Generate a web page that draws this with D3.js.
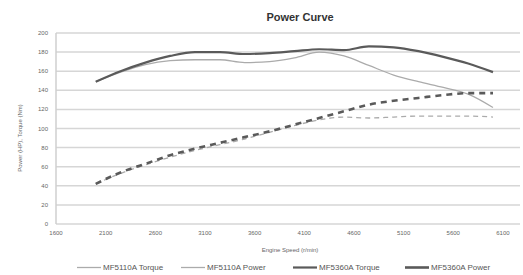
<!DOCTYPE html>
<html>
<head>
<meta charset="utf-8">
<script src="https://cdn.jsdelivr.net/npm/d3@7"></script>
<style>
    body { margin: 0; background: #fff; }
    svg { display: block; font-family: "Liberation Sans", Arial, sans-serif; }
    .grid line { stroke: #d6d6d6; stroke-width: 1.5; }
    .tick-label { fill: #666; font-size: 6px; }
    .axis-title { fill: #666; font-size: 6px; }
    .legend-label { fill: #555; font-size: 8px; }
</style>
</head>
<body>
<svg id="chart" width="523" height="275"></svg>
<script>
// Engine speed samples (r/min)
const RPM = [2000, 2250, 2500, 2750, 3000, 3250, 3500, 3750, 4000, 4250, 4500, 4750, 5000, 5250, 5500, 5750, 6000];

// Series values
const TORQUE_A = [149, 159, 167, 171, 172, 172, 169, 170, 174, 180, 176, 166, 156, 149, 143, 136, 122];
const POWER_A = [42, 53, 62, 70, 77, 83, 89, 96, 103, 109, 112, 111, 112, 113, 113, 113, 112];
const TORQUE_B = [149, 160, 169, 176, 180, 180, 178, 179, 181, 183, 182, 186, 185, 181, 175, 168, 159];
const POWER_B = [42, 54, 63, 72, 79, 85, 91, 97, 104, 111, 118, 125, 129, 132, 135, 137, 137];

const SERIES_NAMES = ["MF5110A Torque", "MF5110A Power", "MF5360A Torque", "MF5360A Power"];

// Tick labels
const X_TICKS = [1600, 2100, 2600, 3100, 3600, 4100, 4600, 5100, 5600, 6100];
const Y_TICKS = [0, 20, 40, 60, 80, 100, 120, 140, 160, 180, 200];

const svg = d3.select("#chart");

const plotLeft = 56, plotRight = 520, plotTop = 33, plotBottom = 224;

const xScale = d3.scaleLinear()
    .domain([1600, 6272])
    .range([plotLeft, plotRight]);

const yScale = d3.scaleLinear()
    .domain([0, 200])
    .range([plotBottom, plotTop]);

// Title
svg.append("text")
    .attr("x", 300)
    .attr("y", 21)
    .attr("text-anchor", "middle")
    .style("font-size", "11px")
    .style("font-weight", "bold")
    .style("fill", "#333")
    .text("Power Curve");

// Horizontal grid
svg.append("g")
    .classed("grid", true)
    .selectAll("line")
    .data(Y_TICKS)
    .enter().append("line")
    .attr("x1", plotLeft)
    .attr("x2", plotRight)
    .attr("y1", (v) => yScale(v))
    .attr("y2", (v) => yScale(v));

// Vertical axis line
svg.append("line")
    .attr("x1", plotLeft)
    .attr("x2", plotLeft)
    .attr("y1", plotTop)
    .attr("y2", plotBottom)
    .style("stroke", "#cfcfcf")
    .style("stroke-width", 1.5);

// Value ticks
svg.selectAll(".value-tick")
    .data(Y_TICKS)
    .enter().append("text")
    .classed("tick-label", true)
    .classed("value-tick", true)
    .attr("x", plotLeft - 8)
    .attr("y", (v) => yScale(v) + 2)
    .attr("text-anchor", "end")
    .text((v) => v);

// Speed ticks
svg.selectAll(".speed-tick")
    .data(X_TICKS)
    .enter().append("text")
    .classed("tick-label", true)
    .classed("speed-tick", true)
    .attr("x", (v) => xScale(v))
    .attr("y", plotBottom + 11)
    .attr("text-anchor", "middle")
    .text((v) => v);

// Axis titles
svg.append("text")
    .classed("axis-title", true)
    .attr("x", 290)
    .attr("y", 252)
    .attr("text-anchor", "middle")
    .text("Engine Speed (r/min)");

svg.append("text")
    .classed("axis-title", true)
    .attr("transform", "translate(22 138) rotate(-90)")
    .attr("text-anchor", "middle")
    .text("Power (HP), Torque (Nm)");

// Lines
const styles = [
    { values: TORQUE_A, color: "#ababab", width: 1.3, dash: null },
    { values: POWER_A, color: "#ababab", width: 1.3, dash: "5,4" },
    { values: TORQUE_B, color: "#5a5a5a", width: 2.2, dash: null },
    { values: POWER_B, color: "#5a5a5a", width: 2.6, dash: "6,5" }
];

const line = d3.line()
    .x((d) => xScale(d[0]))
    .y((d) => yScale(d[1]))
    .curve(d3.curveMonotoneX);

styles.forEach((s) => {
    svg.append("path")
        .datum(RPM.map((r, i) => [r, s.values[i]]))
        .attr("d", line)
        .style("fill", "none")
        .style("stroke", s.color)
        .style("stroke-width", s.width)
        .style("stroke-dasharray", s.dash);
});

// Legend
const legendX = [77, 181, 293, 405];
const legend = svg.selectAll(".legend-item")
    .data(SERIES_NAMES)
    .enter().append("g")
    .classed("legend-item", true)
    .attr("transform", (d, i) => "translate(" + legendX[i] + " 270)");

legend.append("line")
    .attr("x1", 0)
    .attr("x2", 24)
    .attr("y1", -2.5)
    .attr("y2", -2.5)
    .style("stroke", (d, i) => styles[i].color)
    .style("stroke-width", (d, i) => styles[i].width);

legend.append("text")
    .classed("legend-label", true)
    .attr("x", 26)
    .attr("y", 0)
    .text((d) => d);
</script>
</body>
</html>
